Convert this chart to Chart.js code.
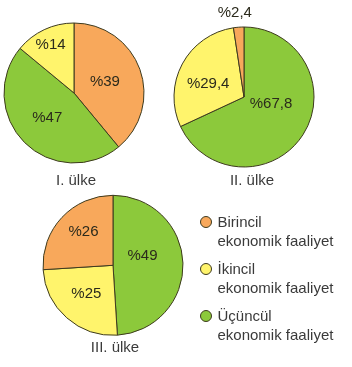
<!DOCTYPE html>
<html>
<head>
<meta charset="utf-8">
<script src="https://cdn.jsdelivr.net/npm/chart.js@4"></script>
<style>
  body { margin: 0; background: #fff; width: 352px; height: 367px; position: relative; overflow: hidden;
         font-family: "Liberation Sans", Arial, sans-serif; }
  .pie { position: absolute; }
  .cap { position: absolute; width: 100px; text-align: center; font-size: 15px; line-height: 18px; color: #3a3a3a; }
  .leg { position: absolute; left: 0; top: 0; z-index: 2; }
  .item { position: absolute; left: 217.5px; font-size: 15px; line-height: 18.3px; color: #3a3a3a; white-space: nowrap; }
  .dot { position: absolute; width: 12px; height: 12px; border-radius: 50%; box-sizing: border-box; border: 1px solid #3d3a1e; }
</style>
</head>
<body>
<div class="pie" style="left:0;top:0"><canvas id="c1" width="176" height="190"></canvas></div>
<div class="pie" style="left:170px;top:0"><canvas id="c2" width="182" height="190"></canvas></div>
<div class="pie" style="left:0;top:190px"><canvas id="c3" width="200" height="177"></canvas></div>
<div id="legend" class="leg"></div>
<script>
// categories
const categories = ['Birincil\nekonomik faaliyet', 'İkincil\nekonomik faaliyet', 'Üçüncül\nekonomik faaliyet'];
const catColors = ['#f8a85b', '#fff46c', '#8cc93b'];

// values per country, in drawing order (clockwise from top)
const countries = ['I. ülke', 'II. ülke', 'III. ülke'];
const order1 = [0, 2, 1];
const values1 = [39, 47, 14];
const order2 = [2, 1, 0];
const values2 = [67.8, 29.4, 2.4];
const order3 = [2, 1, 0];
const values3 = [49, 25, 26];

const borderCol = '#3d3a1e';

// padding so the pie lands at (cx, cy) with radius r
function padFor(w, h, cx, cy, r) {
    const s = r + 0.5;
    return { left: cx - s, right: w - cx - s, top: cy - s, bottom: h - cy - s };
}

const pieLabels = {
    id: 'pieLabels',
    afterDatasetsDraw(chart, args, opts) {
        const ctx = chart.ctx;
        const meta = chart.getDatasetMeta(0);
        const vals = chart.data.datasets[0].data;
        ctx.save();
        ctx.font = '15px "Liberation Sans", Arial, sans-serif';
        ctx.fillStyle = '#2b2a1c';
        ctx.textAlign = 'center';
        ctx.textBaseline = 'middle';
        meta.data.forEach((arc, i) => {
            const p = arc.tooltipPosition();
            const n = opts.nudge[i] || [0, 0];
            ctx.fillText('%' + String(vals[i]).replace('.', ','), p.x + n[0], p.y + n[1]);
        });
        ctx.restore();
    }
};

function makePie(id, values, order, w, h, cx, cy, nudge) {
    new Chart(document.getElementById(id), {
        type: 'pie',
        data: {
            labels: order.map(k => categories[k]),
            datasets: [{
                data: values,
                backgroundColor: order.map(k => catColors[k]),
                borderColor: borderCol,
                borderWidth: 1
            }]
        },
        options: {
            responsive: false,
            animation: false,
            layout: { padding: padFor(w, h, cx, cy, 70) },
            plugins: {
                legend: { display: false },
                tooltip: { enabled: false },
                pieLabels: { nudge: nudge }
            }
        },
        plugins: [pieLabels]
    });
}

makePie('c1', values1, order1, 176, 190, 74, 93, [[-2, 1], [-2, 0], [-8.5, -16.5]]);
makePie('c2', values2, order2, 182, 190, 74, 97, [[-2.5, -12], [-5, 3.5], [-6.5, -49]]);
makePie('c3', values3, order3, 200, 177, 113, 75.3, [[-5.5, -8], [-3.5, 2], [-4, -9]]);

// captions
const capPos = [[76, 171], [252, 171], [115, 338]];
countries.forEach((t, i) => {
    const d = document.createElement('div');
    d.className = 'cap';
    d.textContent = t;
    d.style.left = (capPos[i][0] - 50) + 'px';
    d.style.top = capPos[i][1] + 'px';
    document.body.appendChild(d);
});

// legend
const leg = document.getElementById('legend');
categories.forEach((c, i) => {
    const base = 227.7 + i * 47;
    const dot = document.createElement('div');
    dot.className = 'dot';
    dot.style.background = catColors[i];
    dot.style.left = (205.7 - 6) + 'px';
    dot.style.top = (base - 5.5 - 6) + 'px';
    leg.appendChild(dot);
    const t = document.createElement('div');
    t.className = 'item';
    t.style.top = (base - 14.3) + 'px';
    t.innerHTML = c.split('\n').join('<br>');
    leg.appendChild(t);
});
</script>
</body>
</html>
